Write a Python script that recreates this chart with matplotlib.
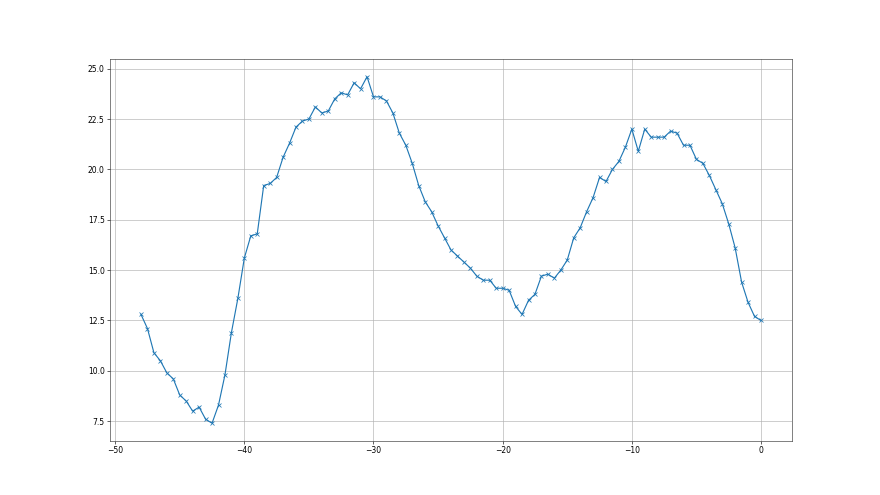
import matplotlib
matplotlib.use('Agg')
import matplotlib.pyplot as plt

# time offsets (half-step samples)
xs = [-48.0, -47.5, -47.0, -46.5, -46.0, -45.5, -45.0, -44.5, -44.0, -43.5,
      -43.0, -42.5, -42.0, -41.5, -41.0, -40.5, -40.0, -39.5, -39.0, -38.5,
      -38.0, -37.5, -37.0, -36.5, -36.0, -35.5, -35.0, -34.5, -34.0, -33.5,
      -33.0, -32.5, -32.0, -31.5, -31.0, -30.5, -30.0, -29.5, -29.0, -28.5,
      -28.0, -27.5, -27.0, -26.5, -26.0, -25.5, -25.0, -24.5, -24.0, -23.5,
      -23.0, -22.5, -22.0, -21.5, -21.0, -20.5, -20.0, -19.5, -19.0, -18.5,
      -18.0, -17.5, -17.0, -16.5, -16.0, -15.5, -15.0, -14.5, -14.0, -13.5,
      -13.0, -12.5, -12.0, -11.5, -11.0, -10.5, -10.0, -9.5, -9.0, -8.5,
      -8.0, -7.5, -7.0, -6.5, -6.0, -5.5, -5.0, -4.5, -4.0, -3.5,
      -3.0, -2.5, -2.0, -1.5, -1.0, -0.5, 0.0]

ys = [12.8, 12.1, 10.9, 10.5, 9.9, 9.6, 8.8, 8.5, 8.0, 8.2,
      7.6, 7.4, 8.3, 9.8, 11.9, 13.6, 15.6, 16.7, 16.8, 19.2,
      19.3, 19.6, 20.6, 21.3, 22.1, 22.4, 22.5, 23.1, 22.8, 22.9,
      23.5, 23.8, 23.7, 24.3, 24.0, 24.6, 23.6, 23.6, 23.4, 22.8,
      21.8, 21.2, 20.3, 19.2, 18.4, 17.9, 17.2, 16.6, 16.0, 15.7,
      15.4, 15.1, 14.7, 14.5, 14.5, 14.1, 14.1, 14.0, 13.2, 12.8,
      13.5, 13.8, 14.7, 14.8, 14.6, 15.0, 15.5, 16.6, 17.1, 17.9,
      18.6, 19.6, 19.4, 20.0, 20.4, 21.1, 22.0, 20.9, 22.0, 21.6,
      21.6, 21.6, 21.9, 21.8, 21.2, 21.2, 20.5, 20.3, 19.7, 19.0,
      18.3, 17.3, 16.1, 14.4, 13.4, 12.7, 12.5]

fig = plt.figure(figsize=(16, 9), dpi=55)
ax = fig.add_subplot(111)
ax.plot(xs, ys, 'x-', color='#1f77b4')
ax.grid(True)
for s in ax.spines.values():
    s.set_color('#333333')

plt.savefig('out.png', dpi=55)
